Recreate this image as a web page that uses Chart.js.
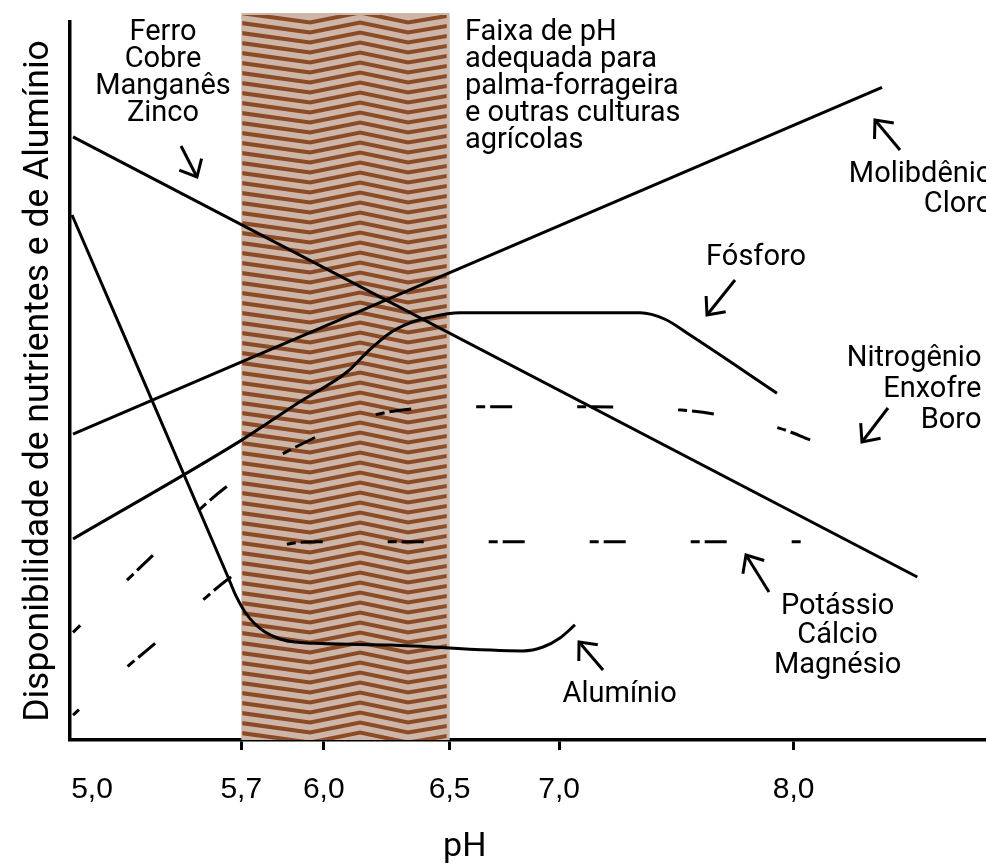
<!DOCTYPE html>
<html>
<head>
<meta charset="utf-8">
<script src="https://cdn.jsdelivr.net/npm/chart.js@4.4.1/dist/chart.umd.min.js"></script>
<style>
  html, body { margin: 0; padding: 0; background: #fff; }
  #wrap { width: 986px; height: 866px; }
</style>
</head>
<body>
<div id="wrap"><canvas id="chart" width="986" height="866"></canvas></div>
<script>
// x is a schematic position 0–100 along the axis: the pH scale of the figure is not linear,
// so each pH label sits at its own position. y is relative availability 0–100.
const tickPos    = [2.4, 18.7, 27.7, 41.45, 53.4, 79.0];
const tickLabels = ["5,0", "5,7", "6,0", "6,5", "7,0", "8,0"];

// suitable pH band (5,7 – 6,5)
const band    = [18.7, 41.45];
const bandTop = 101.25;

// Ferro, Cobre, Manganês, Zinco
const ferroX = [0.33, 92.5];
const ferroY = [84.0, 22.7];

// Molibdênio, Cloro
const molibX = [0.33, 88.65];
const molibY = [42.6, 90.9];

// Fósforo
const fosforoX = [0.33, 18.78, 25.1, 30.24, 32.42, 34.93, 37.12, 39.3, 42.58, 62.23, 64.96, 67.69, 77.18];
const fosforoY = [28.0, 41.8, 47.1, 51.25, 54.0, 56.7, 58.1, 58.9, 59.5, 59.5, 58.6, 56.4, 48.3];

// Alumínio
const aluminioX = [0.22, 17.25, 18.12, 19.10, 20.09, 21.29, 22.93, 24.56, 34.93, 49.45, 51.64, 53.49, 55.13];
const aluminioY = [73.12, 22.7, 20.06, 17.83, 16.3, 15.04, 14.07, 13.65, 13.23, 12.4, 12.95, 14.21, 16.02];

// Nitrogênio, Enxofre, Boro (dashed)
const nitroX = [0.33, 8.95, 16.9, 23.1, 33.3, 44.2, 55.1, 66.4, 77.5, 80.8];
const nitroY = [15.0, 25.6, 35.1, 39.8, 45.3, 46.4, 46.4, 46.0, 43.4, 41.8];

// Potássio, Cálcio, Magnésio (dashed)
const potassioX = [0.33, 6.33, 9.06, 14.52, 17.25, 23.47, 27.07, 79.91];
const potassioY = [3.48, 10.3, 13.2, 19.5, 22.4, 27.2, 27.6, 27.6];

// annotations: text blocks and arrows (tail -> tip), in axis units
const labelBlocks = [
  { lines: ["Ferro", "Cobre", "Manganês", "Zinco"], x: 10.15, y: 97.5, align: "center", lh: 27 },
  { lines: ["Faixa de pH", "adequada para", "palma-forrageira", "e outras culturas", "agrícolas"], x: 43.12, y: 97.5, align: "left", lh: 27 },
  { lines: ["Molibdênio", "Cloro"], x: 100.7, y: 77.7, align: "right", lh: 30 },
  { lines: ["Fósforo"], x: 74.9, y: 66.2, align: "center", lh: 30 },
  { lines: ["Nitrogênio", "Enxofre", "Boro"], x: 99.5, y: 52.1, align: "right", lh: 31 },
  { lines: ["Potássio", "Cálcio", "Magnésio"], x: 83.8, y: 17.6, align: "center", lh: 29.5 },
  { lines: ["Alumínio"], x: 60.0, y: 5.3, align: "center", lh: 30 },
];
const arrows = [
  [12.12, 82.73, 13.86, 78.41],
  [90.61, 82.17, 87.88, 86.35],
  [72.6, 64.07, 69.54, 59.19],
  [89.3, 46.24, 86.46, 41.5],
  [76.31, 20.61, 73.8, 25.77],
  [58.19, 9.75, 55.57, 13.65],
];
const axisTitleX = { text: "pH", x: 43.1 };

const zigFrac = [0, 0.33, 0.57, 0.80, 1.0];
const zigDy   = [0, 9.5, -0.5, 9.5, 2.5];

const pts = (xs, ys) => xs.map((x, i) => ({ x, y: ys[i] }));

const bandPlugin = {
  id: "band",
  beforeDatasetsDraw(chart) {
    const { ctx, scales: { x, y } } = chart;
    const left = x.getPixelForValue(band[0]);
    const right = x.getPixelForValue(band[1]);
    const top = y.getPixelForValue(bandTop);
    const bottom = y.getPixelForValue(0);
    const w = right - left;
    ctx.save();
    ctx.fillStyle = "#cdb6a8";
    ctx.fillRect(left, top, w, bottom - top);
    ctx.beginPath();
    ctx.rect(left + 1, top + 2, w - 4, bottom - top - 2);
    ctx.clip();
    ctx.strokeStyle = "#8c4b27";
    ctx.lineWidth = 4;
    for (let row = top - 10; row < bottom + 12; row += 10) {
      ctx.beginPath();
      zigFrac.forEach((f, i) => {
        const px = left + f * w, py = row + zigDy[i];
        i ? ctx.lineTo(px, py) : ctx.moveTo(px, py);
      });
      ctx.stroke();
    }
    ctx.restore();
  }
};

const notesPlugin = {
  id: "notes",
  afterDatasetsDraw(chart) {
    const { ctx, scales: { x, y } } = chart;
    ctx.save();
    ctx.fillStyle = "#000";
    ctx.font = "29px Roboto";
    ctx.textBaseline = "alphabetic";
    labelBlocks.forEach(b => {
      ctx.textAlign = b.align;
      const px = x.getPixelForValue(b.x), py = y.getPixelForValue(b.y);
      b.lines.forEach((t, i) => ctx.fillText(t, px, py + i * b.lh));
    });

    ctx.strokeStyle = "#000";
    ctx.lineWidth = 3;
    ctx.lineJoin = "miter";
    arrows.forEach(([x0, y0, x1, y1]) => {
      const ax = x.getPixelForValue(x0), ay = y.getPixelForValue(y0);
      const bx = x.getPixelForValue(x1), by = y.getPixelForValue(y1);
      const ang = Math.atan2(by - ay, bx - ax);
      ctx.beginPath();
      ctx.moveTo(ax, ay);
      ctx.lineTo(bx, by);
      ctx.stroke();
      ctx.beginPath();
      ctx.moveTo(bx - 19 * Math.cos(ang - 0.72), by - 19 * Math.sin(ang - 0.72));
      ctx.lineTo(bx, by);
      ctx.lineTo(bx - 19 * Math.cos(ang + 0.72), by - 19 * Math.sin(ang + 0.72));
      ctx.stroke();
    });

    // x axis title
    ctx.textAlign = "center";
    ctx.font = "34px Roboto";
    ctx.fillText(axisTitleX.text, x.getPixelForValue(axisTitleX.x), chart.height - 10);
    ctx.restore();
  }
};

const solid = (label, data, curved) => ({
  label, data,
  borderColor: "#000", borderWidth: 3, pointRadius: 0, fill: false,
  cubicInterpolationMode: curved ? "monotone" : "default", tension: 0,
});
const dashed = (label, data, offset) => ({
  label, data,
  borderColor: "#000", borderWidth: 3, pointRadius: 0, fill: false,
  cubicInterpolationMode: "monotone",
  borderDash: [9, 5, 22, 65], borderDashOffset: offset,
});

new Chart(document.getElementById("chart"), {
  type: "line",
  data: {
    datasets: [
      solid("Ferro, Cobre, Manganês, Zinco", pts(ferroX, ferroY), false),
      solid("Molibdênio, Cloro", pts(molibX, molibY), false),
      solid("Fósforo", pts(fosforoX, fosforoY), true),
      solid("Alumínio", pts(aluminioX, aluminioY), true),
      dashed("Nitrogênio, Enxofre, Boro", pts(nitroX, nitroY), 26),
      dashed("Potássio, Cálcio, Magnésio", pts(potassioX, potassioY), 28),
    ],
  },
  options: {
    responsive: false,
    animation: false,
    devicePixelRatio: 1,
    layout: { padding: { top: 22, right: 0, left: 0, bottom: 0 } },
    plugins: { legend: { display: false }, tooltip: { enabled: false } },
    scales: {
      x: {
        type: "linear", min: 0, max: 100,
        afterFit: (s) => { s.height = 126; },
        afterBuildTicks: (s) => { s.ticks = tickPos.map(v => ({ value: v })); },
        ticks: {
          autoSkip: false, maxRotation: 0, padding: 22,
          color: "#000", font: { family: "'Liberation Sans Narrow', 'Liberation Sans', Roboto", size: 30 },
          callback: (v, i) => tickLabels[i],
        },
        grid: {
          drawOnChartArea: false, drawTicks: true, tickLength: 10, tickWidth: 3,
          tickColor: (c) => c.index === 0 ? "rgba(0,0,0,0)" : "#000",
        },
        border: { display: true, color: "#000", width: 3.5 },
      },
      y: {
        type: "linear", min: 0, max: 100,
        afterFit: (s) => { s.width = 70; },
        ticks: { display: false },
        grid: { display: false },
        border: { display: true, color: "#000", width: 3.5 },
        title: {
          display: true, text: "Disponibilidade de nutrientes e de Alumínio",
          color: "#000", font: { family: "Roboto", size: 35.5 }, padding: { top: 18, bottom: 0 },
        },
      },
    },
  },
  plugins: [bandPlugin, notesPlugin],
});
</script>
</body>
</html>
